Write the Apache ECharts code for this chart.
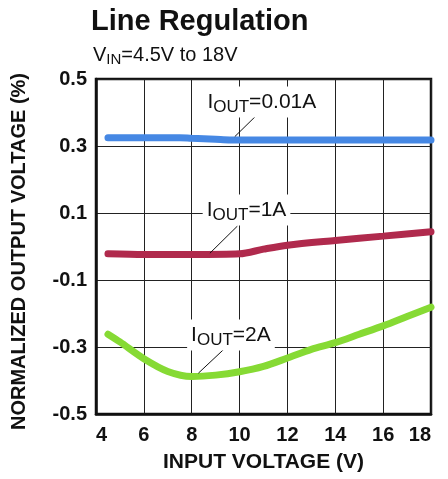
<!DOCTYPE html>
<html><head><meta charset="utf-8">
<script src="https://cdn.jsdelivr.net/npm/echarts@6/dist/echarts.min.js"></script>
<style>html,body{margin:0;padding:0;background:#fff}#c{width:448px;height:479px}</style>
</head><body><div id="c"></div>
<script>
// ---- data ----
const xTicks = [4, 6, 8, 10, 12, 14, 16, 18];
const yTicks = [-0.5, -0.3, -0.1, 0.1, 0.3, 0.5];

const blueX = [4.5, 5, 6, 7, 7.5, 8, 9, 9.6, 10, 12, 14, 16, 18];
const blueY = [0.325, 0.325, 0.325, 0.325, 0.325, 0.323, 0.320, 0.318, 0.318, 0.318, 0.318, 0.318, 0.318];

const redX = [4.5, 6, 8, 10, 11, 12, 14, 16, 18];
const redY = [-0.022, -0.024, -0.024, -0.022, -0.008, 0.004, 0.018, 0.031, 0.044];

const greenX = [4.5, 5, 6, 7, 8, 9, 10, 11, 12, 13, 14, 15, 16, 17, 18];
const greenY = [-0.262, -0.285, -0.335, -0.373, -0.388, -0.384, -0.374, -0.358, -0.333, -0.307, -0.287, -0.262, -0.237, -0.209, -0.181];

const seriesNames = ['0.01A', '1A', '2A'];
// annotation label anchors and leader lines (data coords)
const annLabel = [[10.93, 0.431], [10.29, 0.109], [9.64, -0.264]];
const annLine = [
  [[10.93, 0.407], [9.80, 0.328]],
  [[9.91, 0.061], [8.76, -0.020]],
  [[9.46, -0.299], [8.28, -0.378]]
];

const FONT = 'Liberation Sans';
const pairs = (xs, ys) => xs.map((x, i) => [x, ys[i]]);

function series(idx, xs, ys, color) {
  return {
    type: 'line', name: seriesNames[idx], data: pairs(xs, ys),
    smooth: 0.3, showSymbol: false, animation: false,
    lineStyle: { color: color, width: 7, cap: 'round' },
    itemStyle: { color: color },
    markPoint: {
      symbol: 'rect', symbolSize: 0, animation: false, silent: true,
      data: [{ coord: annLabel[idx] }],
      label: {
        show: true, position: 'inside',
        backgroundColor: '#fff', padding: [2, 4, 2, 4],
        formatter: '{i|I}{s|OUT}{n|=' + seriesNames[idx] + '}',
        rich: {
          i: { fontFamily: FONT, fontSize: 21, color: '#111', fontWeight: 'normal' },
          s: { fontFamily: FONT, fontSize: 17, color: '#111', padding: [10, 0, 0, 0] },
          n: { fontFamily: FONT, fontSize: 21, color: '#111' }
        }
      }
    },
    markLine: {
      symbol: ['none', 'none'], silent: true, animation: false,
      label: { show: false },
      lineStyle: { color: '#111', width: 1, type: 'solid' },
      data: [[{ coord: annLine[idx][0] }, { coord: annLine[idx][1] }]]
    }
  };
}

const chart = echarts.init(document.getElementById('c'), null, { renderer: 'canvas' });
chart.setOption({
  backgroundColor: '#fff',
  animation: false,
  title: [
    { text: 'Line Regulation', left: 86, top: 2,
      textStyle: { fontFamily: FONT, fontSize: 29, fontWeight: 'bold', color: '#111' } },
    { text: '{v|V}{s|IN}{v|=4.5V to 18V}', left: 88, top: 38,
      textStyle: { fontWeight: 'normal', rich: {
        v: { fontFamily: FONT, fontSize: 20, color: '#111', fontWeight: 'normal' },
        s: { fontFamily: FONT, fontSize: 15, color: '#111', fontWeight: 'normal', padding: [9, 0, 0, 0] }
      } } }
  ],
  grid: { left: 96, right: 17, top: 79, bottom: 65, show: true, borderColor: '#111', borderWidth: 2.5 },
  xAxis: {
    type: 'value', min: xTicks[0], max: xTicks[xTicks.length - 1], interval: 2,
    name: 'INPUT VOLTAGE (V)', nameLocation: 'middle', nameGap: 38,
    nameTextStyle: { fontFamily: FONT, fontSize: 21, fontWeight: 'bold', color: '#111' },
    axisLine: { show: true, onZero: false, lineStyle: { color: '#111', width: 2.5 } },
    axisTick: { show: false },
    axisLabel: { fontFamily: FONT, fontSize: 20, fontWeight: 'bold', color: '#111', margin: 11,
      alignMinLabel: 'left', alignMaxLabel: 'right' },
    splitLine: { show: true, lineStyle: { color: '#222', width: 1 } }
  },
  yAxis: {
    type: 'value', min: yTicks[0], max: yTicks[yTicks.length - 1], interval: 0.2,
    name: 'NORMALIZED OUTPUT VOLTAGE (%)', nameLocation: 'middle', nameGap: 67,
    nameTextStyle: { fontFamily: FONT, fontSize: 20, fontWeight: 'bold', color: '#111', padding: [0, 10, 0, 0] },
    axisLine: { show: true, onZero: false, lineStyle: { color: '#111', width: 2.5 } },
    axisTick: { show: false },
    axisLabel: { fontFamily: FONT, fontSize: 20, fontWeight: 'bold', color: '#111', margin: 9,
      formatter: v => v.toFixed(1) },
    splitLine: { show: true, lineStyle: { color: '#222', width: 1 } }
  },
  series: [
    series(0, blueX, blueY, '#4688e4'),
    series(1, redX, redY, '#b02a4d'),
    series(2, greenX, greenY, '#86da34')
  ]
});
</script></body></html>
